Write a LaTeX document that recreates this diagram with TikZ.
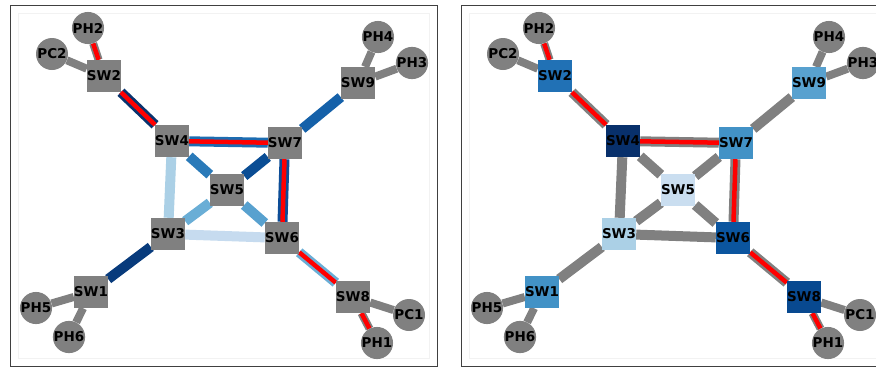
\documentclass[tikz,border=0pt]{standalone}
\usepackage{fontspec}
\setmainfont{DejaVu Sans}
\pgfdeclarelayer{bg}
\pgfdeclarelayer{edges}
\pgfsetlayers{bg,edges,main}
\definecolor{ngray}{HTML}{808080}
\definecolor{framec}{HTML}{404040}
\definecolor{innerc}{HTML}{F2F2F2}
% left-panel edge colours
\definecolor{eA}{HTML}{08336E}
\definecolor{eB}{HTML}{1C6CB1}
\definecolor{eC}{HTML}{2A7AB9}
\definecolor{eD}{HTML}{ABD0E6}
\definecolor{eE}{HTML}{0A4D94}
\definecolor{eF}{HTML}{1561A9}
\definecolor{eG}{HTML}{0D4D97}
\definecolor{eH}{HTML}{6AAED6}
\definecolor{eI}{HTML}{58A1CF}
\definecolor{eJ}{HTML}{C6DBEF}
\definecolor{eK}{HTML}{083B7C}
\definecolor{eL}{HTML}{6AAED6}
% right-panel node colours
\definecolor{nSWtwo}{HTML}{2171B5}
\definecolor{nSWfour}{HTML}{08306B}
\definecolor{nSWseven}{HTML}{4292C6}
\definecolor{nSWnine}{HTML}{58A1CF}
\definecolor{nSWfive}{HTML}{CADEF0}
\definecolor{nSWthree}{HTML}{ABD0E6}
\definecolor{nSWone}{HTML}{4292C6}
\definecolor{nSWsix}{HTML}{0B559F}
\definecolor{nSWeight}{HTML}{084990}
\begin{document}
\begin{tikzpicture}[x=1pt,y=-1pt,
  lbl/.style={font=\fontsize{13.5}{13.5}\selectfont\bfseries, text=black},
  sw/.style={lbl, rectangle, minimum size=32pt, inner sep=0pt, fill=ngray},
  host/.style={lbl, circle, minimum size=32pt, inner sep=0pt, fill=ngray},
  edgeline/.style={line width=10pt},
  leafline/.style={line width=8pt, draw=ngray},
  redline/.style={line width=4.5pt, draw=red},
  frameline/.style={draw=framec, line width=1pt},
  innerline/.style={draw=innerc, line width=1pt}]
\useasboundingbox (0,0) rectangle (876,368);
\begin{pgfonlayer}{bg}
\fill[white] (0,0) rectangle (876,368);
\draw[innerline] (18,13) rectangle (429,358);
\draw[frameline] (10,5) rectangle (437,366);
\draw[innerline] (469,13) rectangle (880,358);
\draw[frameline] (461,5) rectangle (888,366);
\end{pgfonlayer}

% ---------------- left panel nodes ----------------
\node[host] (PH2) at (88,28) {PH2};
\node[host] (PC2) at (52,54) {PC2};
\node[sw] (SW2) at (104,76) {SW2};
\node[sw] (SW4) at (172,141) {SW4};
\node[sw] (SW7) at (285,143) {SW7};
\node[sw] (SW9) at (358,83) {SW9};
\node[host] (PH4) at (378,37) {PH4};
\node[host] (PH3) at (412,63) {PH3};
\node[sw] (SW5) at (227,190) {SW5};
\node[sw] (SW3) at (168,234) {SW3};
\node[sw] (SW6) at (282,238) {SW6};
\node[sw] (SW1) at (91,292) {SW1};
\node[host] (PH5) at (36,308) {PH5};
\node[host] (PH6) at (69,337) {PH6};
\node[sw] (SW8) at (353,297) {SW8};
\node[host] (PC1) at (409,315) {PC1};
\node[host] (PH1) at (377,343) {PH1};

% ---------------- right panel nodes ----------------
\node[host] (rPH2) at (539,28) {PH2};
\node[host] (rPC2) at (503,54) {PC2};
\node[sw, fill=nSWtwo] (rSW2) at (555,76) {SW2};
\node[sw, fill=nSWfour] (rSW4) at (623,141) {SW4};
\node[sw, fill=nSWseven] (rSW7) at (736,143) {SW7};
\node[sw, fill=nSWnine] (rSW9) at (809,83) {SW9};
\node[host] (rPH4) at (829,37) {PH4};
\node[host] (rPH3) at (863,63) {PH3};
\node[sw, fill=nSWfive] (rSW5) at (678,190) {SW5};
\node[sw, fill=nSWthree] (rSW3) at (619,234) {SW3};
\node[sw, fill=nSWsix] (rSW6) at (733,238) {SW6};
\node[sw, fill=nSWone] (rSW1) at (542,292) {SW1};
\node[host] (rPH5) at (487,308) {PH5};
\node[host] (rPH6) at (520,337) {PH6};
\node[sw, fill=nSWeight] (rSW8) at (804,297) {SW8};
\node[host] (rPC1) at (860,315) {PC1};
\node[host] (rPH1) at (828,343) {PH1};

\begin{pgfonlayer}{edges}
% ---------------- left panel edges ----------------
\draw[leafline] (PH2) -- (SW2);
\draw[leafline] (PC2) -- (SW2);
\draw[leafline] (PH4) -- (SW9);
\draw[leafline] (PH3) -- (SW9);
\draw[leafline] (PH5) -- (SW1);
\draw[leafline] (PH6) -- (SW1);
\draw[leafline] (PC1) -- (SW8);
\draw[leafline] (PH1) -- (SW8);
\draw[edgeline, draw=eA] (SW2) -- (SW4);
\draw[edgeline, draw=eB] (SW4) -- (SW7);
\draw[edgeline, draw=eC] (SW4) -- (SW5);
\draw[edgeline, draw=eD] (SW4) -- (SW3);
\draw[edgeline, draw=eE] (SW7) -- (SW5);
\draw[edgeline, draw=eF] (SW7) -- (SW9);
\draw[edgeline, draw=eG] (SW7) -- (SW6);
\draw[edgeline, draw=eH] (SW5) -- (SW3);
\draw[edgeline, draw=eI] (SW5) -- (SW6);
\draw[edgeline, draw=eJ] (SW3) -- (SW6);
\draw[edgeline, draw=eK] (SW3) -- (SW1);
\draw[edgeline, draw=eL] (SW6) -- (SW8);
\draw[redline] (PH2) -- (SW2);
\draw[redline] (SW2) -- (SW4);
\draw[redline] (SW4) -- (SW7);
\draw[redline] (SW7) -- (SW6);
\draw[redline] (SW6) -- (SW8);
\draw[redline] (SW8) -- (PH1);

% ---------------- right panel edges ----------------
\draw[leafline] (rPH2) -- (rSW2);
\draw[leafline] (rPC2) -- (rSW2);
\draw[leafline] (rPH4) -- (rSW9);
\draw[leafline] (rPH3) -- (rSW9);
\draw[leafline] (rPH5) -- (rSW1);
\draw[leafline] (rPH6) -- (rSW1);
\draw[leafline] (rPC1) -- (rSW8);
\draw[leafline] (rPH1) -- (rSW8);
\draw[edgeline, draw=ngray] (rSW2) -- (rSW4);
\draw[edgeline, draw=ngray] (rSW4) -- (rSW7);
\draw[edgeline, draw=ngray] (rSW4) -- (rSW5);
\draw[edgeline, draw=ngray] (rSW4) -- (rSW3);
\draw[edgeline, draw=ngray] (rSW7) -- (rSW5);
\draw[edgeline, draw=ngray] (rSW7) -- (rSW9);
\draw[edgeline, draw=ngray] (rSW7) -- (rSW6);
\draw[edgeline, draw=ngray] (rSW5) -- (rSW3);
\draw[edgeline, draw=ngray] (rSW5) -- (rSW6);
\draw[edgeline, draw=ngray] (rSW3) -- (rSW6);
\draw[edgeline, draw=ngray] (rSW3) -- (rSW1);
\draw[edgeline, draw=ngray] (rSW6) -- (rSW8);
\draw[redline] (rPH2) -- (rSW2);
\draw[redline] (rSW2) -- (rSW4);
\draw[redline] (rSW4) -- (rSW7);
\draw[redline] (rSW7) -- (rSW6);
\draw[redline] (rSW6) -- (rSW8);
\draw[redline] (rSW8) -- (rPH1);
\end{pgfonlayer}
\end{tikzpicture}
\end{document}
